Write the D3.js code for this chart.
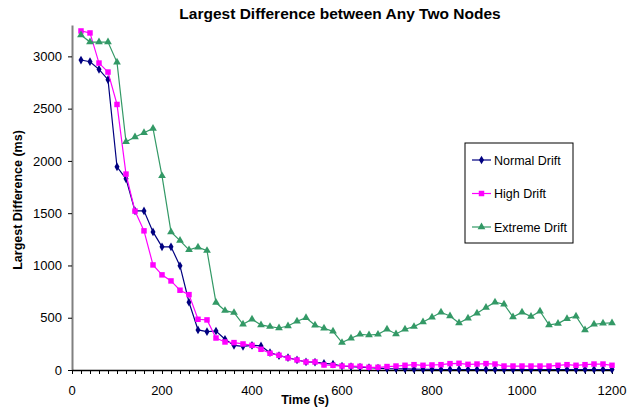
<!DOCTYPE html>
<html>
<head>
<meta charset="utf-8">
<script src="https://cdn.jsdelivr.net/npm/d3@7"></script>
<style>
  body { margin: 0; background: #fff; }
  text { font-family: "Liberation Sans", Arial, sans-serif; }
</style>
</head>
<body>
<div id="chart"></div>
<script>
// Time stamps (s), one sample every 20 s
const times = d3.range(20, 1201, 20);

const normalDrift = [
  2965, 2949, 2876, 2777, 1944, 1829, 1522, 1522, 1321, 1178,
  1178, 996, 648, 383, 367, 373, 294, 236, 226, 236,
  230, 166, 137, 118, 96, 77, 75, 64, 57, 38,
  32, 27, 22, 18, 14, 12, 10, 8, 7, 6,
  5, 5, 5, 5, 5, 5, 5, 5, 5, 5,
  5, 5, 5, 5, 5, 5, 5, 5, 5, 5
];

const highDrift = [
  3243, 3224, 2936, 2850, 2540, 1874, 1520, 1331, 1005, 910,
  852, 763, 721, 485, 479, 306, 268, 262, 249, 236,
  198, 160, 141, 115, 96, 77, 77, 48, 45, 38,
  38, 35, 26, 26, 33, 38, 45, 51, 45, 48,
  51, 61, 64, 54, 57, 61, 57, 38, 38, 38,
  38, 38, 38, 45, 51, 45, 51, 57, 57, 45
];

const extremeDrift = [
  3205, 3137, 3137, 3137, 2943, 2183, 2228, 2269, 2311, 1857,
  1321, 1238, 1149, 1175, 1142, 645, 568, 549, 437, 485,
  431, 415, 402, 421, 466, 500, 428, 399, 370, 262,
  303, 341, 335, 341, 389, 345, 390, 415, 460, 504,
  552, 517, 450, 495, 543, 597, 648, 629, 507, 552,
  511, 562, 431, 444, 491, 514, 383, 437, 447, 450
];

const seriesNames = ["Normal Drift", "High Drift", "Extreme Drift"];
const seriesColors = ["#000080", "#ff00ff", "#339966"];
const seriesSymbols = [d3.symbolDiamond, d3.symbolSquare, d3.symbolTriangle];
const yTicks = [0, 500, 1000, 1500, 2000, 2500, 3000];
const xTicks = [0, 200, 400, 600, 800, 1000, 1200];

const width = 638, height = 407;
const margin = { top: 25, right: 26, bottom: 37, left: 72 };

const svg = d3.select("#chart").append("svg")
  .attr("width", width)
  .attr("height", height);

const x = d3.scaleLinear().domain([0, 1200]).range([margin.left, width - margin.right]);
const y = d3.scaleLinear().domain([0, 3300]).range([height - margin.bottom, margin.top]);

// Title
svg.append("text")
  .attr("x", 340).attr("y", 19)
  .attr("text-anchor", "middle")
  .style("font-size", "15.5px").style("font-weight", "bold")
  .text("Largest Difference between Any Two Nodes");

// Y axis
const yAxis = svg.append("g")
  .attr("transform", `translate(${margin.left},0)`)
  .call(d3.axisLeft(y).tickValues(yTicks).tickSize(4).tickSizeOuter(0).tickFormat(d3.format("d")));
yAxis.select(".domain").attr("stroke", "#808080").attr("stroke-width", 2);
yAxis.selectAll(".tick line").attr("stroke", "#000");
yAxis.selectAll("text").style("font-size", "13px").attr("fill", "#000").attr("x", -10);

// X axis with minor ticks every 20 s
const xAxis = svg.append("g")
  .attr("transform", `translate(0,${y(0)})`)
  .call(d3.axisBottom(x).tickValues(d3.range(0, 1201, 20)).tickSize(4).tickSizeOuter(0).tickFormat(""));
xAxis.select(".domain").attr("stroke", "#000").attr("stroke-width", 1.5);
xAxis.selectAll(".tick line").attr("stroke", "#000");

svg.append("g").selectAll("text")
  .data(xTicks)
  .join("text")
  .attr("x", d => x(d))
  .attr("y", y(0) + 25)
  .attr("text-anchor", "middle")
  .style("font-size", "13px")
  .text(d => d);

// Axis titles
svg.append("text")
  .attr("x", 305).attr("y", 404)
  .attr("text-anchor", "middle")
  .style("font-size", "12.5px").style("font-weight", "bold")
  .text("Time (s)");

svg.append("text")
  .attr("transform", `translate(22,${200}) rotate(-90)`)
  .attr("text-anchor", "middle")
  .style("font-size", "12.5px").style("font-weight", "bold")
  .text("Largest Difference (ms)");

// Series
const allSeries = [normalDrift, highDrift, extremeDrift];
const line = d3.line().x((d, i) => x(times[i])).y(d => y(d));
const symbolSizes = [22, 30, 26];

allSeries.forEach((vals, k) => {
  svg.append("path")
    .datum(vals)
    .attr("fill", "none")
    .attr("stroke", seriesColors[k])
    .attr("stroke-width", 1.2)
    .attr("d", line);
  svg.append("g").selectAll("path")
    .data(vals)
    .join("path")
    .attr("transform", (d, i) => `translate(${x(times[i])},${y(d)})`)
    .attr("d", d3.symbol(seriesSymbols[k], symbolSizes[k]))
    .attr("fill", seriesColors[k]);
});

// Legend
const legend = svg.append("g").attr("transform", "translate(465,143)");
legend.append("rect")
  .attr("width", 108).attr("height", 100)
  .attr("fill", "#fff").attr("stroke", "#000").attr("stroke-width", 1);

seriesNames.forEach((name, k) => {
  const ly = 17 + k * 33.5;
  legend.append("line")
    .attr("x1", 7).attr("x2", 26).attr("y1", ly).attr("y2", ly)
    .attr("stroke", seriesColors[k]).attr("stroke-width", 1.2);
  legend.append("path")
    .attr("transform", `translate(16.5,${ly})`)
    .attr("d", d3.symbol(seriesSymbols[k], symbolSizes[k]))
    .attr("fill", seriesColors[k]);
  legend.append("text")
    .attr("x", 29).attr("y", ly + 4.5)
    .style("font-size", "12.5px")
    .text(name);
});
</script>
</body>
</html>
